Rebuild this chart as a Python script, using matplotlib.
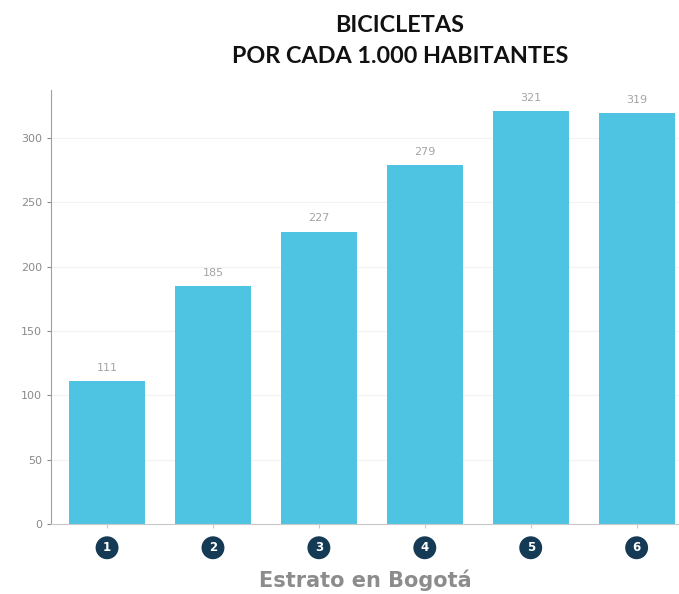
import numpy as np
import matplotlib.pyplot as plt

estratos = ['1', '2', '3', '4', '5', '6']
bicicletas = [111, 185, 227, 279, 321, 319]
yticks = [0, 50, 100, 150, 200, 250, 300]

fig = plt.figure(figsize=(6.79, 5.94), dpi=100)
ax = fig.add_axes([0.075, 0.118, 0.925, 0.73])

x = np.arange(len(estratos))
bars = ax.bar(x, bicicletas, width=0.72, color='#4fc4e2', zorder=2)
ax.bar_label(bars, padding=6, color='#a4a4a4', fontsize=8)

ax.set_xlim(-0.53, 5.4)
ax.set_ylim(0, 337)
ax.set_yticks(yticks)
ax.tick_params(axis='y', colors='#8a8a8a', labelsize=8, length=3, width=0.8)
ax.tick_params(axis='x', length=3, colors='#c8c8c8', width=0.8)
ax.grid(axis='y', color='#f2f2f2', linewidth=0.8, zorder=0)

for s in ['top', 'right']:
    ax.spines[s].set_visible(False)
ax.spines['left'].set_color('#a0a0a0')
ax.spines['bottom'].set_color('#c8c8c8')

# numeros en circulo debajo de cada barra
ax.set_xticks(x)
ax.set_xticklabels([])
for xi, lab in zip(x, estratos):
    ax.text(xi, -0.055, lab, transform=ax.get_xaxis_transform(),
            ha='center', va='center', color='white', fontsize=8.5, fontweight='bold',
            bbox=dict(boxstyle='circle,pad=0.42', fc='#143a55', ec='none'))

ax.set_xlabel('Estrato en Bogotá', fontsize=15, fontweight='bold', color='#8c8c8c', labelpad=26)

# titulo en dos lineas
titulo = ['BICICLETAS', 'POR CADA 1.000 HABITANTES']
for yy, linea in zip([0.946, 0.894], titulo):
    fig.text(0.589, yy, linea, ha='center', va='baseline',
             fontsize=16.8, fontweight='bold', color='#111111', family='Lato')

fig.savefig('out.png', dpi=100)
